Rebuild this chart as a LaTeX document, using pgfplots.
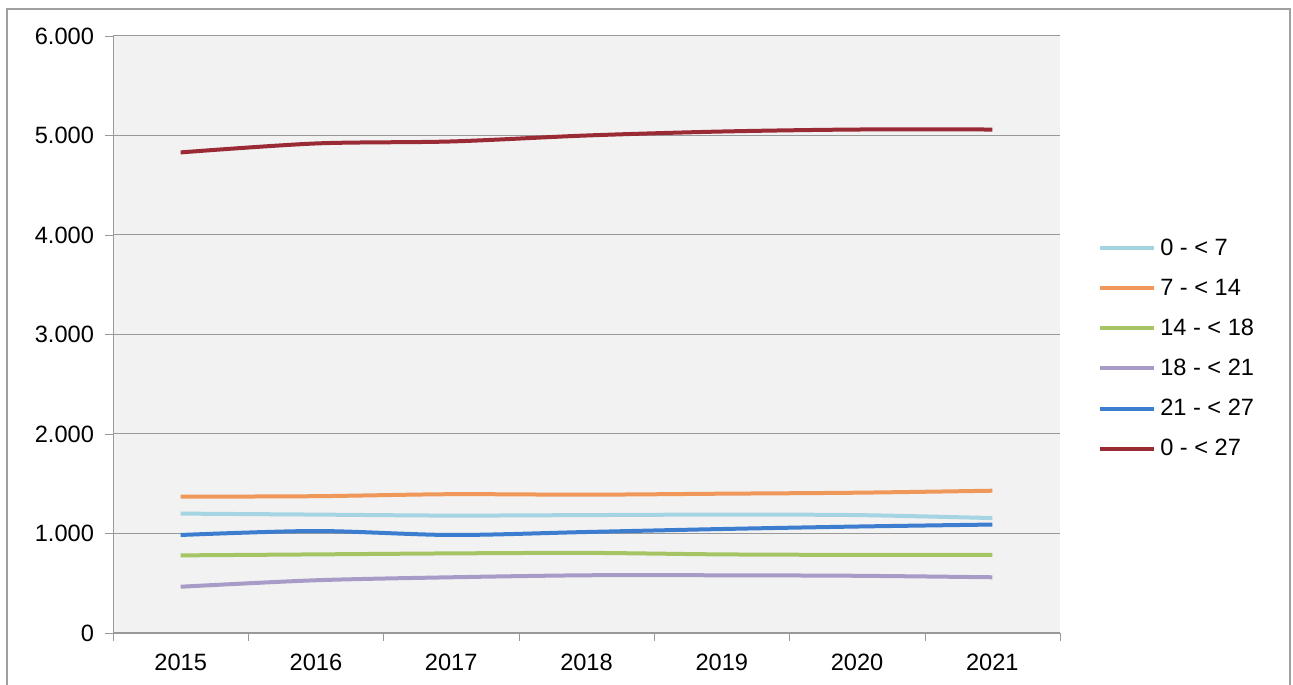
\documentclass[border=0pt]{standalone}
\usepackage{fontspec}
\setmainfont{Liberation Sans}
\usepackage{pgfplots}
\pgfplotsset{compat=1.18}
\definecolor{cA}{HTML}{A5D5E2}
\definecolor{cB}{HTML}{F0975A}
\definecolor{cC}{HTML}{A5C464}
\definecolor{cD}{HTML}{A89BC8}
\definecolor{cE}{HTML}{3C7DD0}
\definecolor{cF}{HTML}{9A2B35}
\definecolor{bg}{HTML}{F2F2F2}
\begin{document}
\begin{tikzpicture}
\path[use as bounding box] (0,0) rectangle (646.5pt,342pt);
\draw[gray!75, line width=1pt] (3.5pt,-5pt) rectangle (645pt,337.5pt);
\begin{axis}[
  at={(56.5pt,25.5pt)}, anchor=south west,
  scale only axis, width=473.5pt, height=298.5pt,
  xmin=-0.5, xmax=6.5, ymin=0, ymax=6000,
  axis x line=bottom, axis y line=left,
  axis line style={gray!80, -},
  xtick={0,...,6},
  xticklabels={2015,2016,2017,2018,2019,2020,2021},
  major x tick style={draw=none},
  minor xtick={-0.5,0.5,...,6.5},
  minor tick length=4pt,
  minor x tick style={gray!80},
  ytick={0,1000,...,6000},
  major tick length=4pt,
  y tick style={gray!80},
  tick align=outside,
  ymajorgrids, major grid style={gray!80, line width=0.5pt},
  axis background/.style={fill=bg},
  /pgf/number format/.cd, 1000 sep={.}, assume math mode=true,
  /pgfplots/.cd,
  ticklabel style={font=\fontsize{11.8}{13}\selectfont},
  xticklabel style={yshift=-3pt},
  yticklabel style={xshift=-2pt},
  legend style={at={(1.04,0.4765)}, anchor=west, draw=none, fill=none,
    font=\fontsize{11.8}{13}\selectfont, row sep=6.3pt,
    inner sep=0pt, cells={anchor=west}},
  legend image code/.code={\draw[#1] (0pt,0pt) -- (27pt,0pt);},
  every axis plot/.append style={line width=2pt, smooth, tension=0.5},
  clip=false,
]
\addplot[cA] coordinates {(0,1200) (1,1190) (2,1180) (3,1185) (4,1190) (5,1185) (6,1155)};
\addlegendentry{0 - < 7}
\addplot[cB] coordinates {(0,1370) (1,1375) (2,1395) (3,1390) (4,1400) (5,1410) (6,1430)};
\addlegendentry{7 - < 14}
\addplot[cC] coordinates {(0,780) (1,790) (2,800) (3,805) (4,790) (5,785) (6,785)};
\addlegendentry{14 - < 18}
\addplot[cD] coordinates {(0,465) (1,530) (2,560) (3,580) (4,580) (5,575) (6,560)};
\addlegendentry{18 - < 21}
\addplot[cE] coordinates {(0,985) (1,1025) (2,985) (3,1015) (4,1045) (5,1070) (6,1090)};
\addlegendentry{21 - < 27}
\addplot[cF] coordinates {(0,4830) (1,4920) (2,4940) (3,5000) (4,5040) (5,5060) (6,5060)};
\addlegendentry{0 - < 27}
\end{axis}
\end{tikzpicture}
\end{document}
